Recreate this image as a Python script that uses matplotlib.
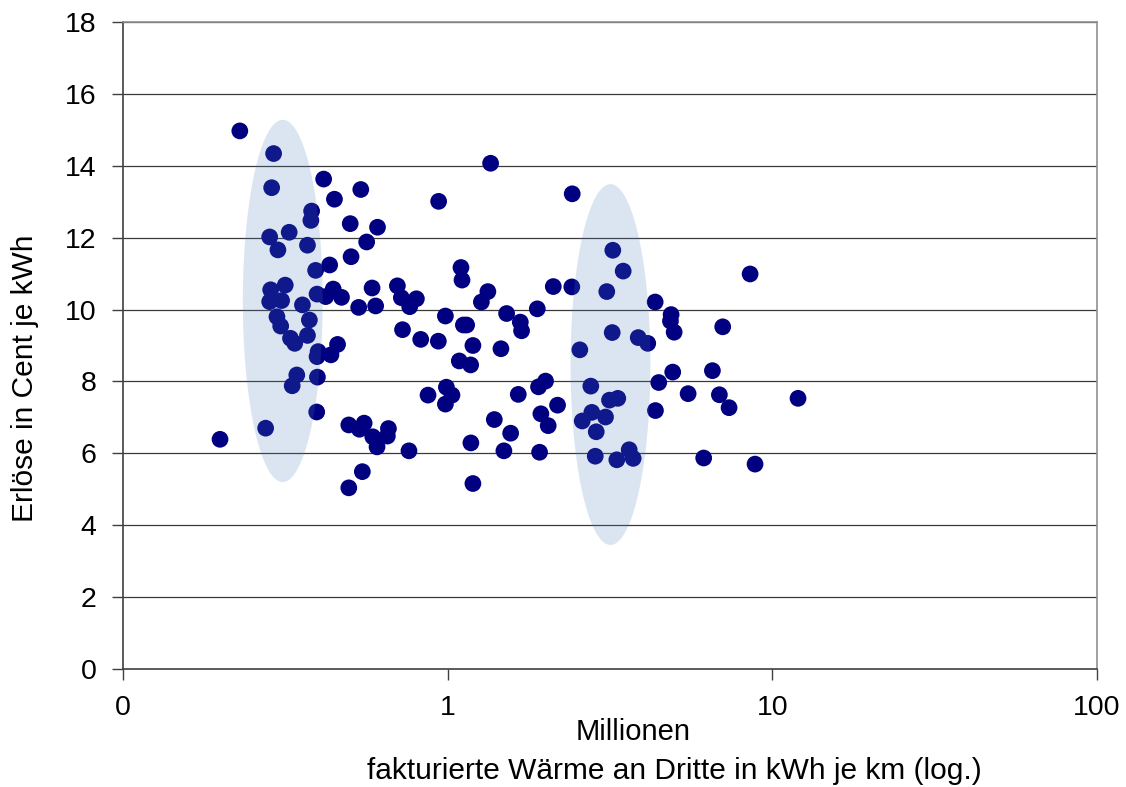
import numpy as np
import matplotlib
matplotlib.use("Agg")
import matplotlib.pyplot as plt
from matplotlib.patches import Polygon

plt.rcParams['font.family'] = ['Liberation Sans', 'DejaVu Sans']

# fakturierte Wärme (Mio. kWh je km) und Erlöse (Cent je kWh)
waerme = [
    0.229, 0.291, 0.287, 0.415, 0.540, 0.448, 0.938, 0.381, 0.379, 0.501,
    0.608, 0.283, 0.325, 0.300, 0.370, 0.563, 0.504, 0.392, 0.433, 0.285,
    0.316, 0.283, 0.308, 0.357, 0.396, 0.444, 0.471, 0.421, 0.532, 0.585,
    0.600, 0.700, 0.720, 0.801, 0.764, 0.298, 0.306, 0.375, 0.328, 0.338,
    0.370, 0.399, 0.396, 0.458, 0.437, 0.343, 0.332, 0.397, 0.395, 0.275,
    0.199, 0.496, 0.535, 0.553, 0.588, 0.606, 0.657, 0.652, 0.760, 0.546,
    0.496, 0.726, 0.826, 0.936, 0.984, 0.870, 0.991, 0.984, 1.356, 2.419,
    3.226, 3.472, 1.099, 1.107, 1.330, 1.270, 2.115, 2.412, 3.091, 4.356,
    4.878, 4.855, 4.984, 1.118, 1.144, 1.519, 1.674, 1.689, 1.888, 1.196,
    1.459, 1.086, 1.177, 2.553, 3.212, 3.863, 4.133, 4.934, 4.468, 1.031,
    1.650, 1.905, 2.002, 2.180, 1.937, 2.040, 1.392, 1.563, 1.179, 1.490,
    1.919, 1.196, 2.760, 3.151, 3.342, 2.780, 2.597, 3.063, 2.868, 2.848,
    3.319, 3.623, 3.727, 4.365, 7.033, 8.541, 6.538, 5.503, 6.869, 7.358,
    12.00, 6.146, 8.846,
]
erloese = [
    14.97, 14.34, 13.39, 13.63, 13.34, 13.07, 13.01, 12.74, 12.48, 12.39,
    12.29, 12.02, 12.15, 11.66, 11.79, 11.88, 11.47, 11.09, 11.24, 10.55,
    10.68, 10.22, 10.25, 10.13, 10.43, 10.57, 10.34, 10.36, 10.06, 10.60,
    10.10, 10.66, 10.33, 10.30, 10.08, 9.80, 9.54, 9.71, 9.20, 9.06,
    9.28, 8.83, 8.69, 9.03, 8.74, 8.18, 7.88, 8.12, 7.15, 6.70,
    6.39, 6.79, 6.67, 6.84, 6.46, 6.18, 6.69, 6.48, 6.07, 5.49,
    5.04, 9.44, 9.17, 9.12, 9.82, 7.62, 7.84, 7.37, 14.07, 13.22,
    11.65, 11.07, 11.17, 10.82, 10.50, 10.21, 10.64, 10.63, 10.50, 10.21,
    9.86, 9.68, 9.37, 9.57, 9.57, 9.89, 9.65, 9.41, 10.02, 9.00,
    8.91, 8.57, 8.46, 8.88, 9.36, 9.22, 9.06, 8.26, 7.97, 7.62,
    7.64, 7.85, 8.01, 7.34, 7.10, 6.77, 6.94, 6.56, 6.29, 6.07,
    6.03, 5.16, 7.87, 7.48, 7.53, 7.14, 6.90, 7.01, 6.60, 5.92,
    5.82, 6.10, 5.86, 7.19, 9.52, 10.99, 8.30, 7.66, 7.63, 7.27,
    7.53, 5.87, 5.70,
]

x_ticks = [0.1, 1, 10, 100]
x_ticklabels = ['0', '1', '10', '100']
y_ticks = list(range(0, 19, 2))

# hervorgehobene Bereiche: (log10-Mitte, halbe Breite in Dekaden, y-Mitte, halbe Höhe)
bereiche = [(-0.508, 0.123, 10.24, 5.04), (0.5015, 0.123, 8.47, 5.02)]

fig = plt.figure(figsize=(11.26, 7.87), dpi=100)
ax = fig.add_axes([123 / 1126, 1 - 669 / 787, (1097 - 123) / 1126, (669 - 22) / 787])

ax.set_xscale('log')
ax.set_xlim(0.1, 100)
ax.set_ylim(0, 18)

for y in y_ticks[1:]:
    ax.axhline(y, color='#3a3a3a', lw=0.9, zorder=1)

ax.scatter(waerme, erloese, s=145, color='#000080', edgecolors='none', zorder=3)

t = np.linspace(0, 2 * np.pi, 200)
for lx, hw, cy, hh in bereiche:
    pts = np.column_stack([10 ** (lx + hw * np.cos(t)), cy + hh * np.sin(t)])
    ax.add_patch(Polygon(pts, closed=True, facecolor='#4F81BD', alpha=0.2,
                         edgecolor='none', zorder=4))

ax.set_xticks(x_ticks)
ax.set_xticklabels(x_ticklabels)
ax.xaxis.set_minor_locator(matplotlib.ticker.NullLocator())
ax.set_yticks(y_ticks)
ax.tick_params(axis='both', labelsize=20.5, length=8, width=1, color='#404040',
               direction='out', pad=11)

for side in ['left', 'bottom']:
    ax.spines[side].set_color('#404040')
    ax.spines[side].set_linewidth(1.2)
for side in ['right', 'top']:
    ax.spines[side].set_color('#909090')
    ax.spines[side].set_linewidth(1.2)

fig.text(633 / 1126, 1 - 740 / 787, 'Millionen', ha='center', va='baseline', fontsize=21)
fig.text(674 / 1126, 1 - 779 / 787, 'fakturierte Wärme an Dritte in kWh je km (log.)',
         ha='center', va='baseline', fontsize=21.5)
fig.text(25 / 1126, 1 - 378 / 787, 'Erlöse in Cent je kWh', rotation=90,
         ha='center', va='center', fontsize=21.5)

fig.savefig('out.png', dpi=100)
